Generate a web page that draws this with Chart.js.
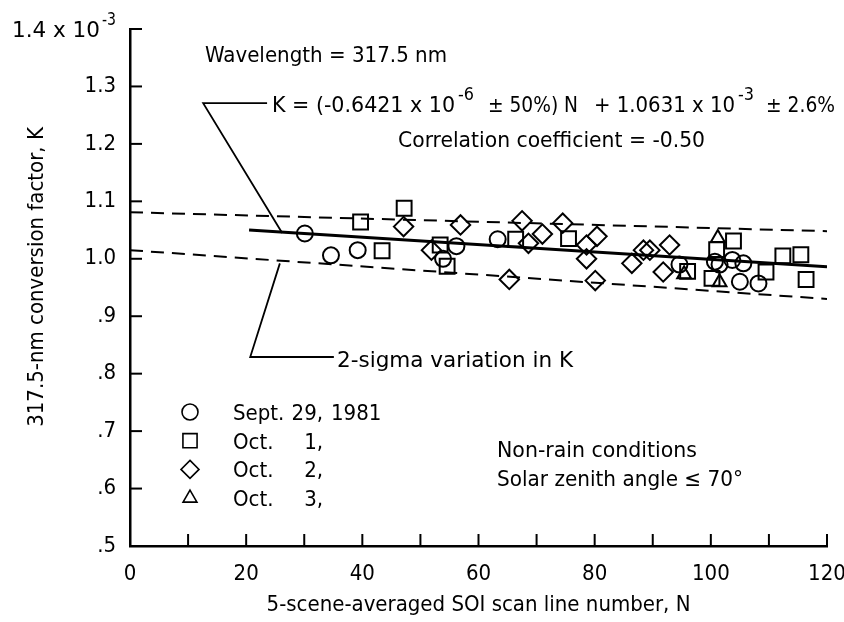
<!DOCTYPE html>
<html>
<head>
<meta charset="utf-8">
<script src="https://cdn.jsdelivr.net/npm/chart.js@4.4.1/dist/chart.umd.min.js"></script>
<style>
  html, body { margin: 0; padding: 0; background: #fff; }
</style>
</head>
<body>
<canvas id="chart" width="844" height="622"></canvas>
<script>
const FONT = '"Liberation Sans Narrow", "DejaVu Sans Condensed", "DejaVu Sans", sans-serif';

// scan line number N and conversion factor K (x 10^-3), one pair of arrays per day
const sept29N = [30.1, 34.6, 39.2, 53.9, 56.2, 63.3, 94.6, 100.7, 101.5, 103.7, 105.6, 105.0, 108.2];
const sept29K = [1.044, 1.006, 1.015, 1.000, 1.022, 1.034, 0.990, 0.995, 0.990, 0.998, 0.992, 0.960, 0.957];

const oct1N = [39.7, 43.4, 47.2, 53.4, 54.6, 66.4, 75.5, 96.0, 100.2, 101.0, 103.9, 109.5, 112.4, 115.5, 116.4];
const oct1K = [1.064, 1.014, 1.088, 1.024, 0.987, 1.034, 1.035, 0.978, 0.966, 1.016, 1.031, 0.977, 1.005, 1.007, 0.964];

const oct2N = [47.1, 51.9, 56.9, 65.3, 67.5, 68.6, 71.0, 74.5, 78.6, 78.6, 80.4, 80.1, 86.4, 88.4, 89.5, 91.8, 92.9];
const oct2K = [1.056, 1.015, 1.059, 0.964, 1.066, 1.027, 1.043, 1.062, 1.024, 1.000, 1.039, 0.962, 0.992, 1.015, 1.015, 0.977, 1.024];

const oct3N = [95.4, 101.2, 101.5];
const oct3K = [0.973, 1.036, 0.959];

// regression line and 2-sigma band
const fitN = [20.5, 120];
const fitK = [1.050, 0.986];
const upperN = [0, 120];
const upperK = [1.081, 1.048];
const lowerN = [0, 120];
const lowerK = [1.015, 0.930];

// leader lines from the labels to the curves
const fitLeaderN = [23.6, 12.6, 26.2];
const fitLeaderK = [1.271, 1.271, 1.045];
const bandLeaderN = [35.1, 20.7, 25.8];
const bandLeaderK = [0.829, 0.829, 0.992];

const yTickValues = [0.6, 0.7, 0.8, 0.9, 1.0, 1.1, 1.2, 1.3, 1.4];
const yTickLabels = { 5: '.5', 6: '.6', 7: '.7', 8: '.8', 9: '.9', 10: '1.0', 11: '1.1', 12: '1.2', 13: '1.3', 14: '' };
const xTickValues = [10, 20, 30, 40, 50, 60, 70, 80, 90, 100, 110, 120];

const pts = (xs, ys) => xs.map((x, i) => ({ x: x, y: ys[i] }));

function markerSet(label, xs, ys, style, radius) {
  return {
    label: label,
    data: pts(xs, ys),
    pointStyle: style,
    pointRadius: radius,
    pointBorderWidth: 2,
    pointBorderColor: '#000',
    pointBackgroundColor: 'rgba(0,0,0,0)',
    showLine: false
  };
}

function lineSet(xs, ys, width, dash) {
  return {
    data: pts(xs, ys),
    showLine: true,
    borderColor: '#000',
    borderWidth: width,
    borderDash: dash || [],
    pointRadius: 0,
    fill: false
  };
}

// text squeezed or stretched to a given width (the lettering is narrower than the fonts on hand)
function fitText(ctx, text, x, y, width, size) {
  ctx.font = (size || 22) + 'px ' + FONT;
  const w = ctx.measureText(text).width;
  ctx.save();
  ctx.translate(x, y);
  ctx.scale(width ? width / w : 1, 1);
  ctx.fillText(text, 0, 0);
  ctx.restore();
}

const drawMarker = (ctx, style, x, y, r) => {
  ctx.beginPath();
  if (style === 'circle') {
    ctx.arc(x, y, r, 0, Math.PI * 2);
  } else if (style === 'rect') {
    const s = r * Math.SQRT1_2;
    ctx.rect(x - s, y - s, 2 * s, 2 * s);
  } else if (style === 'rectRot') {
    ctx.moveTo(x, y - r); ctx.lineTo(x + r, y); ctx.lineTo(x, y + r); ctx.lineTo(x - r, y); ctx.closePath();
  } else {
    ctx.moveTo(x, y - r); ctx.lineTo(x + r * 0.866, y + r / 2); ctx.lineTo(x - r * 0.866, y + r / 2); ctx.closePath();
  }
  ctx.stroke();
};

const annotations = {
  id: 'annotations',
  afterDraw(chart) {
    const ctx = chart.ctx;
    const xs = chart.scales.x, ys = chart.scales.y;
    const x0 = xs.getPixelForValue(0), y0 = ys.getPixelForValue(0.5);
    ctx.save();
    ctx.strokeStyle = '#000';
    ctx.lineWidth = 2;
    // inward tick marks
    yTickValues.forEach(v => {
      const py = ys.getPixelForValue(v);
      ctx.beginPath(); ctx.moveTo(x0, py); ctx.lineTo(x0 + 12, py); ctx.stroke();
    });
    xTickValues.forEach(v => {
      const px = xs.getPixelForValue(v);
      ctx.beginPath(); ctx.moveTo(px, y0); ctx.lineTo(px, y0 - 12); ctx.stroke();
    });

    ctx.fillStyle = '#000';
    ctx.textBaseline = 'alphabetic';
    ctx.textAlign = 'left';

    // y axis title, turned on its side
    ctx.save();
    ctx.translate(43, 277);
    ctx.rotate(-Math.PI / 2);
    ctx.textAlign = 'center';
    ctx.font = '22px ' + FONT;
    ctx.fillText('317.5-nm conversion factor, K', 0, 0);
    ctx.restore();

    fitText(ctx, '1.4 x 10', 12, 37, 88);
    fitText(ctx, '-3', 102, 25, 14, 17);

    fitText(ctx, 'Wavelength = 317.5 nm', 205, 62, 242);

    fitText(ctx, 'K = (-0.6421 x 10', 272, 112, 183);
    fitText(ctx, '-6', 458, 100, 16, 17);
    fitText(ctx, '\u00b1 50%) N', 488, 112, 90);
    fitText(ctx, '+ 1.0631 x 10', 594, 112, 141);
    fitText(ctx, '-3', 738, 100, 16, 17);
    fitText(ctx, '\u00b1 2.6%', 766, 112, 69);

    fitText(ctx, 'Correlation coefficient = -0.50', 398, 147, 307);
    fitText(ctx, '2-sigma variation in K', 337, 367, 236);
    fitText(ctx, 'Non-rain conditions', 497, 457, 200);
    fitText(ctx, 'Solar zenith angle \u2264 70\u00b0', 497, 486, 246);

    // key
    const keyRows = [
      ['circle', 8, 'Sept.', '29,', '1981'],
      ['rect', 10, 'Oct.', '1,', ''],
      ['rectRot', 9, 'Oct.', '2,', ''],
      ['triangle', 8, 'Oct.', '3,', '']
    ];
    keyRows.forEach((row, i) => {
      const by = 420 + i * 28.7;
      ctx.lineWidth = 1.6;
      drawMarker(ctx, row[0], 190, by - 8, row[1]);
      ctx.font = '22px ' + FONT;
      ctx.textAlign = 'left';
      ctx.fillText(row[2], 233, by);
      ctx.textAlign = 'right';
      ctx.fillText(row[3], 323, by);
      ctx.textAlign = 'left';
      ctx.fillText(row[4], 331, by);
    });
    ctx.restore();
  }
};

new Chart(document.getElementById('chart'), {
  type: 'scatter',
  data: {
    datasets: [
      markerSet('Sept. 29, 1981', sept29N, sept29K, 'circle', 8),
      markerSet('Oct. 1', oct1N, oct1K, 'rect', 10.5),
      markerSet('Oct. 2', oct2N, oct2K, 'rectRot', 9.7),
      markerSet('Oct. 3', oct3N, oct3K, 'triangle', 8),
      lineSet(fitN, fitK, 3),
      lineSet(upperN, upperK, 2, [13, 8]),
      lineSet(lowerN, lowerK, 2, [13, 8]),
      lineSet(fitLeaderN, fitLeaderK, 1.8),
      lineSet(bandLeaderN, bandLeaderK, 1.8)
    ]
  },
  options: {
    responsive: false,
    animation: false,
    devicePixelRatio: 1,
    layout: { padding: { top: 29, right: 17, left: 0, bottom: 0 } },
    plugins: {
      legend: { display: false },
      tooltip: { enabled: false }
    },
    scales: {
      x: {
        type: 'linear',
        min: 0,
        max: 120,
        afterFit: s => { s.height = 76; s.paddingLeft = 0; s.paddingRight = 0; },
        grid: { display: false, drawTicks: false },
        border: { display: true, color: '#000', width: 2.5 },
        ticks: {
          stepSize: 10,
          autoSkip: false,
          maxRotation: 0,
          padding: 15,
          color: '#000',
          font: { family: FONT, size: 22 },
          callback: v => (v % 20 === 0 ? String(v) : '')
        },
        title: {
          display: true,
          text: '5-scene-averaged SOI scan line number, N',
          color: '#000',
          font: { family: FONT, size: 22 },
          padding: { top: 0, bottom: 4 }
        }
      },
      y: {
        type: 'linear',
        min: 0.5,
        max: 1.4,
        afterFit: s => { s.width = 130; s.paddingTop = 0; s.paddingBottom = 0; },
        grid: { display: false, drawTicks: false },
        border: { display: true, color: '#000', width: 2.5 },
        ticks: {
          stepSize: 0.1,
          autoSkip: false,
          padding: 14,
          color: '#000',
          font: { family: FONT, size: 22 },
          callback: v => yTickLabels[Math.round(v * 10)]
        }
      }
    }
  },
  plugins: [annotations]
});
</script>
</body>
</html>
